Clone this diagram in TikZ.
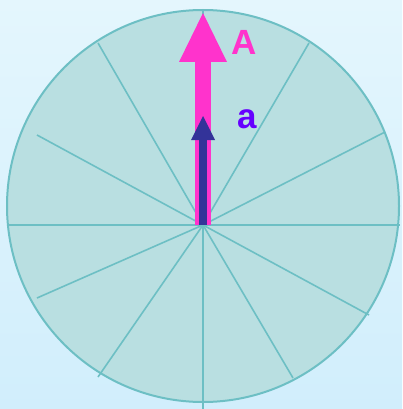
\documentclass[tikz,border=0pt]{standalone}
\usepackage{fontspec}
\setmainfont{Liberation Sans}
\usetikzlibrary{arrows.meta}
\definecolor{bgtop}{HTML}{E4F6FD}
\definecolor{bgbot}{HTML}{D1EEFC}
\definecolor{discfill}{HTML}{B9DFE1}
\definecolor{discline}{HTML}{6DBFC4}
\definecolor{bigpink}{HTML}{FF33CC}
\definecolor{smallblue}{HTML}{333399}
\definecolor{labviolet}{HTML}{6600FF}
\tikzset{
  spoke/.style={draw=discline, line width=1.6pt},
  veclabel/.style={inner sep=0pt, font=\fontsize{35}{35}\selectfont\bfseries}
}
\begin{document}
\begin{tikzpicture}[x=1pt, y=-1pt]
    \fill[top color=bgtop, bottom color=bgbot] (0,0) rectangle (402,409);
    \useasboundingbox (0,0) rectangle (402,409);

    \coordinate (mid) at (203,206);
    \coordinate (o) at (203,225);
    \fill[discfill] (mid) circle[radius=196];

    \foreach \p in {(98,43),(37,135),(7,225),(37,298),(98,377),(203,409),
                    (293,378),(369,315),(400,225),(385,132),(309,43),(203,10)}
      \draw[spoke] (o) -- \p;

    \draw[discline, line width=2pt] (mid) circle[radius=196];

    \coordinate (Atip) at (203,13);
    \coordinate (atip) at (203,116);
    \draw[bigpink, line width=16pt,
          -{Triangle[length=49pt, width=48pt, line width=0pt]}] (o) -- (Atip);
    \draw[smallblue, line width=8pt,
          -{Triangle[length=24pt, width=24pt, line width=0pt]}] (o) -- (atip);

    \node[veclabel, text=bigpink] (labA) at (244.5,42) {A};
    \node[veclabel, text=labviolet] (laba) at (247,119.5) {a};
  \end{tikzpicture}
\end{document}
